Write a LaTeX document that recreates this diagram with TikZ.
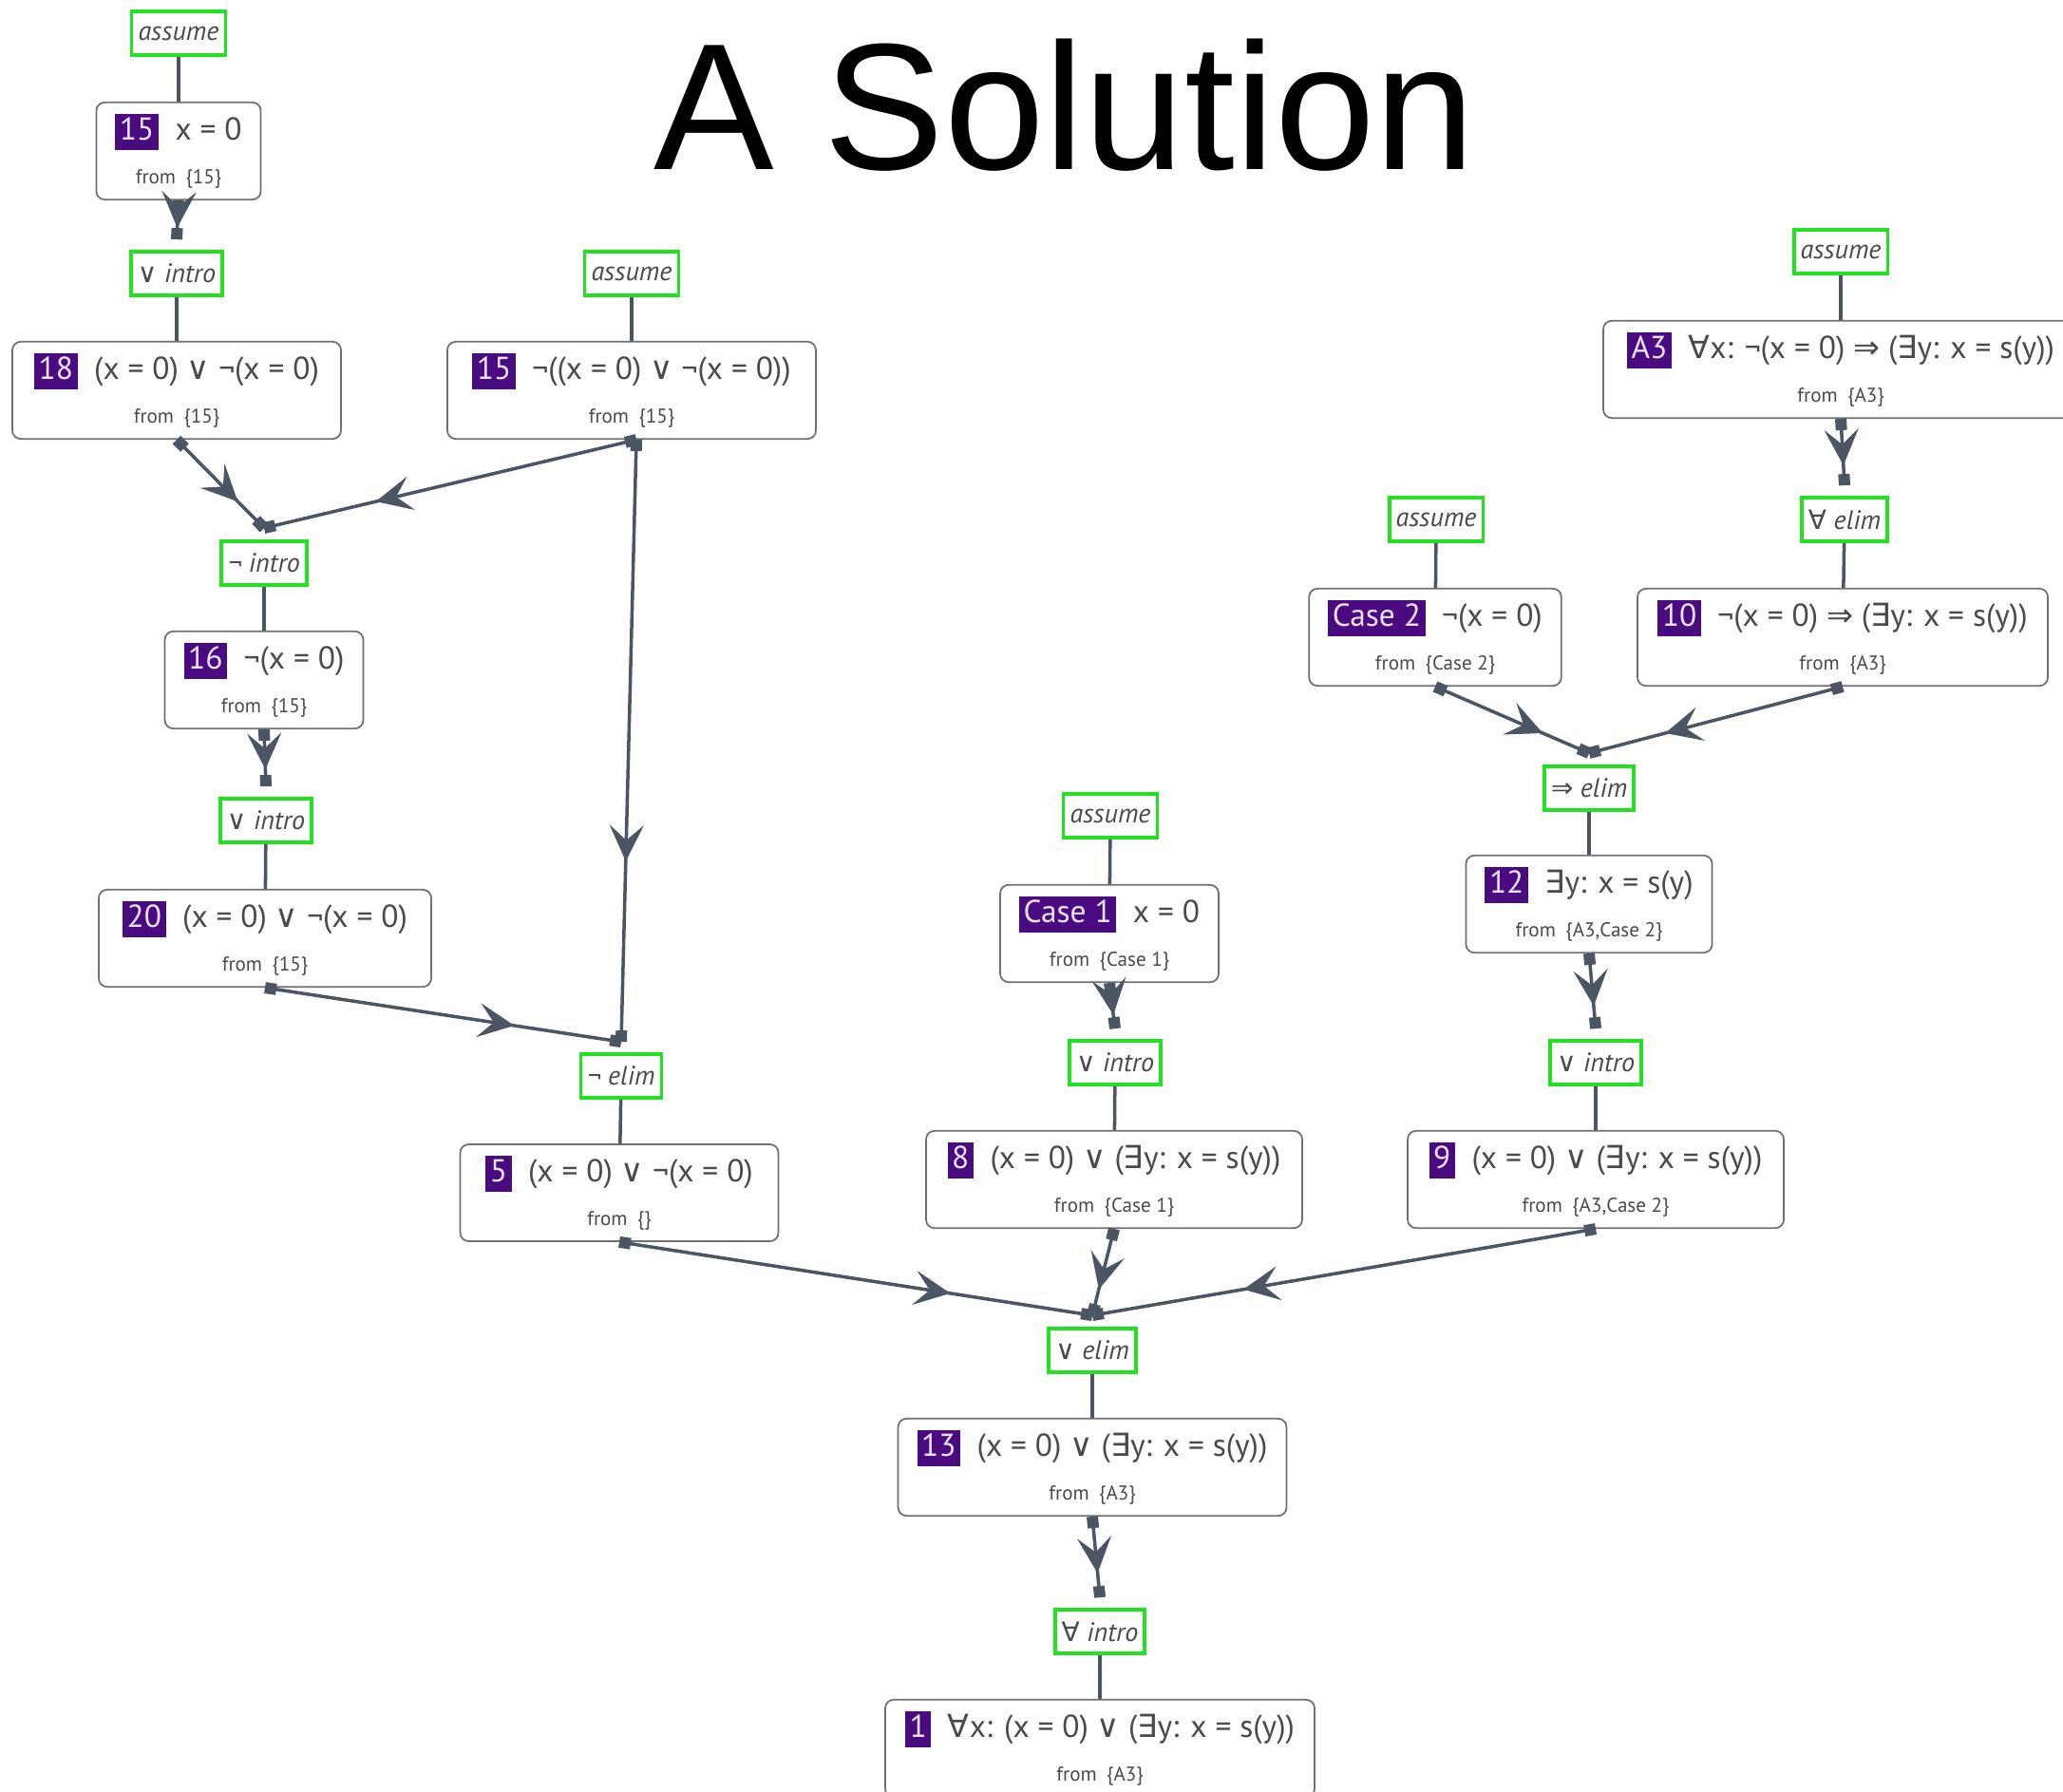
\documentclass[tikz,border=0pt]{standalone}
\usepackage{fontspec}
\setmainfont{PT Sans}
\newfontfamily\titlefont{Liberation Sans}
\newfontfamily\symf{DejaVu Sans}
\usepackage{xcolor}
\usetikzlibrary{arrows.meta, positioning, calc, decorations.markings}

\definecolor{edgegray}{HTML}{4B5563}
\definecolor{rulegreen}{HTML}{22E022}
\definecolor{badgepurple}{HTML}{4A0A80}
\definecolor{boxgray}{HTML}{707070}
\definecolor{textgray}{HTML}{4A4A4A}

\newcommand{\symall}{{\symf ∀}}
\newcommand{\symex}{{\symf ∃}}
\newcommand{\symor}{{\symf ∨}}
\newcommand{\symimp}{{\symf ⇒}}
\newcommand{\badge}[1]{{\setlength{\fboxsep}{1.3pt}\colorbox{badgepurple}{\rule[-1.6pt]{0pt}{7.6pt}\textcolor{white!88!badgepurple}{#1}}}\hspace{5pt}}
\newcommand{\fromset}[1]{\\[2pt]{\fontsize{6}{7}\selectfont from\enspace\{#1\}}}

\begin{document}
\begin{tikzpicture}[
        stmt/.style={rectangle, draw=boxgray, line width=0.5pt, rounded corners=2.5pt, fill=white, minimum height=0.98cm, inner xsep=0.2cm, align=center, text=textgray, font=\fontsize{9.5}{11}\selectfont},
        rulebox/.style={rectangle, draw=rulegreen, line width=1.1pt, fill=white, minimum height=0.46cm, inner xsep=0.07cm, inner ysep=0pt, text=textgray, font=\fontsize{8}{9}\selectfont\itshape},
        link/.style={draw=edgegray, line width=1pt},
        infer/.style={link, {Square[length=1.2mm,width=1.2mm]}-{Square[length=1.2mm,width=1.2mm]}, postaction={decorate},
            decoration={markings, mark=at position 0.7 with {\arrow[color=edgegray]{Stealth[length=3.8mm, width=3.6mm, inset=1.6mm]}}}}
    ]
        \useasboundingbox (0,0) rectangle (21.72,-18.86);
        \fill[white] (0,0) rectangle (21.72,-18.86);

        \node[font=\titlefont\fontsize{54}{60}\selectfont] (title) at (11.21,-1.11) {A Solution};

        % --- left branch ---
        \node[rulebox] (asA) at (1.88,-0.35) {assume};
        \node[stmt, minimum width=1.69cm] (n15a) at (1.88,-1.59) {\badge{15}x = 0\fromset{15}};
        \node[rulebox] (viA) at (1.86,-2.88) {\symor{} intro};
        \node[stmt, minimum width=3.46cm] (n18) at (1.86,-4.11) {\badge{18}(x = 0) \symor{} ¬(x = 0)\fromset{15}};
        \node[rulebox] (asB) at (6.65,-2.88) {assume};
        \node[stmt, minimum width=3.88cm] (n15b) at (6.65,-4.11) {\badge{15}¬((x = 0) \symor{} ¬(x = 0))\fromset{15}};
        \node[rulebox] (nint) at (2.78,-5.93) {¬ intro};
        \node[stmt, minimum width=2.09cm] (n16) at (2.78,-7.16) {\badge{16}¬(x = 0)\fromset{15}};
        \node[rulebox] (viB) at (2.80,-8.64) {\symor{} intro};
        \node[stmt, minimum width=3.50cm] (n20) at (2.79,-9.88) {\badge{20}(x = 0) \symor{} ¬(x = 0)\fromset{15}};
        \node[rulebox] (nelim) at (6.54,-11.33) {¬ elim};
        \node[stmt, minimum width=3.35cm] (n5) at (6.52,-12.56) {\badge{5}(x = 0) \symor{} ¬(x = 0)\fromset{}};

        % --- case 1 ---
        \node[rulebox] (asC) at (11.69,-8.59) {assume};
        \node[stmt, minimum width=2.17cm] (c1) at (11.68,-9.83) {\badge{Case 1}x = 0\fromset{Case 1}};
        \node[rulebox] (viC) at (11.74,-11.19) {\symor{} intro};
        \node[stmt, minimum width=3.96cm] (n8) at (11.73,-12.42) {\badge{8}(x = 0) \symor{} (\symex y: x = s(y))\fromset{Case 1}};

        % --- case 2 ---
        \node[rulebox] (asD) at (15.12,-5.47) {assume};
        \node[stmt, minimum width=2.65cm] (c2) at (15.11,-6.71) {\badge{Case 2}¬(x = 0)\fromset{Case 2}};
        \node[rulebox] (asE) at (19.38,-2.65) {assume};
        \node[stmt, minimum width=5.00cm] (nA3) at (19.38,-3.89) {\badge{A3}\symall x: ¬(x = 0) \symimp{} (\symex y: x = s(y))\fromset{A3}};
        \node[rulebox] (aelim) at (19.42,-5.47) {\symall{} elim};
        \node[stmt, minimum width=4.32cm] (n10) at (19.40,-6.71) {\badge{10}¬(x = 0) \symimp{} (\symex y: x = s(y))\fromset{A3}};
        \node[rulebox] (ielim) at (16.73,-8.30) {\symimp{} elim};
        \node[stmt, minimum width=2.52cm] (n12) at (16.73,-9.52) {\badge{12}\symex y: x = s(y)\fromset{A3,Case 2}};
        \node[rulebox] (viD) at (16.80,-11.19) {\symor{} intro};
        \node[stmt, minimum width=3.96cm] (n9) at (16.80,-12.42) {\badge{9}(x = 0) \symor{} (\symex y: x = s(y))\fromset{A3,Case 2}};

        % --- conclusion ---
        \node[rulebox] (velim) at (11.50,-14.22) {\symor{} elim};
        \node[stmt, minimum width=4.07cm] (n13) at (11.50,-15.45) {\badge{13}(x = 0) \symor{} (\symex y: x = s(y))\fromset{A3}};
        \node[rulebox] (aint) at (11.58,-17.18) {\symall{} intro};
        \node[stmt, minimum width=4.52cm] (n1) at (11.58,-18.41) {\badge{1}\symall x: (x = 0) \symor{} (\symex y: x = s(y))\fromset{A3}};

        % rule -> statement
        \draw[link] (asA) -- (n15a);
        \draw[link] (viA) -- (n18);
        \draw[link] (asB) -- (n15b);
        \draw[link] (nint) -- (n16);
        \draw[link] (viB) -- (n20);
        \draw[link] (nelim) -- (n5);
        \draw[link] (asC) -- (c1);
        \draw[link] (viC) -- (n8);
        \draw[link] (asD) -- (c2);
        \draw[link] (asE) -- (nA3);
        \draw[link] (aelim) -- (n10);
        \draw[link] (ielim) -- (n12);
        \draw[link] (viD) -- (n9);
        \draw[link] (velim) -- (n13);
        \draw[link] (aint) -- (n1);

        % statement -> rule
        \draw[infer] (n15a.south) -- ([yshift=1.1mm]viA.north);
        \draw[infer] (n18.south) -- ([yshift=1.2mm]nint.north);
        \draw[infer] ([xshift=0.5mm]n15b.south) -- ([yshift=1.2mm]nint.north);
        \draw[infer] (n16.south) -- ([yshift=1.1mm]viB.north);
        \draw[infer] ([xshift=0.5mm]n15b.south) -- ([yshift=1.1mm]nelim.north);
        \draw[infer] (n20.south) -- ([yshift=1.1mm]nelim.north);
        \draw[infer] (c1.south) -- ([yshift=1.1mm]viC.north);
        \draw[infer] (nA3.south) -- ([yshift=1.1mm]aelim.north);
        \draw[infer] (c2.south) -- ([yshift=1.2mm]ielim.north);
        \draw[infer] (n10.south) -- ([yshift=1.2mm]ielim.north);
        \draw[infer] (n12.south) -- ([yshift=1.1mm]viD.north);
        \draw[infer] (n5.south) -- ([yshift=1.2mm]velim.north);
        \draw[infer] (n8.south) -- ([yshift=1.2mm]velim.north);
        \draw[infer] (n9.south) -- ([yshift=1.2mm]velim.north);
        \draw[infer] (n13.south) -- ([yshift=1.1mm]aint.north);
    \end{tikzpicture}
\end{document}
